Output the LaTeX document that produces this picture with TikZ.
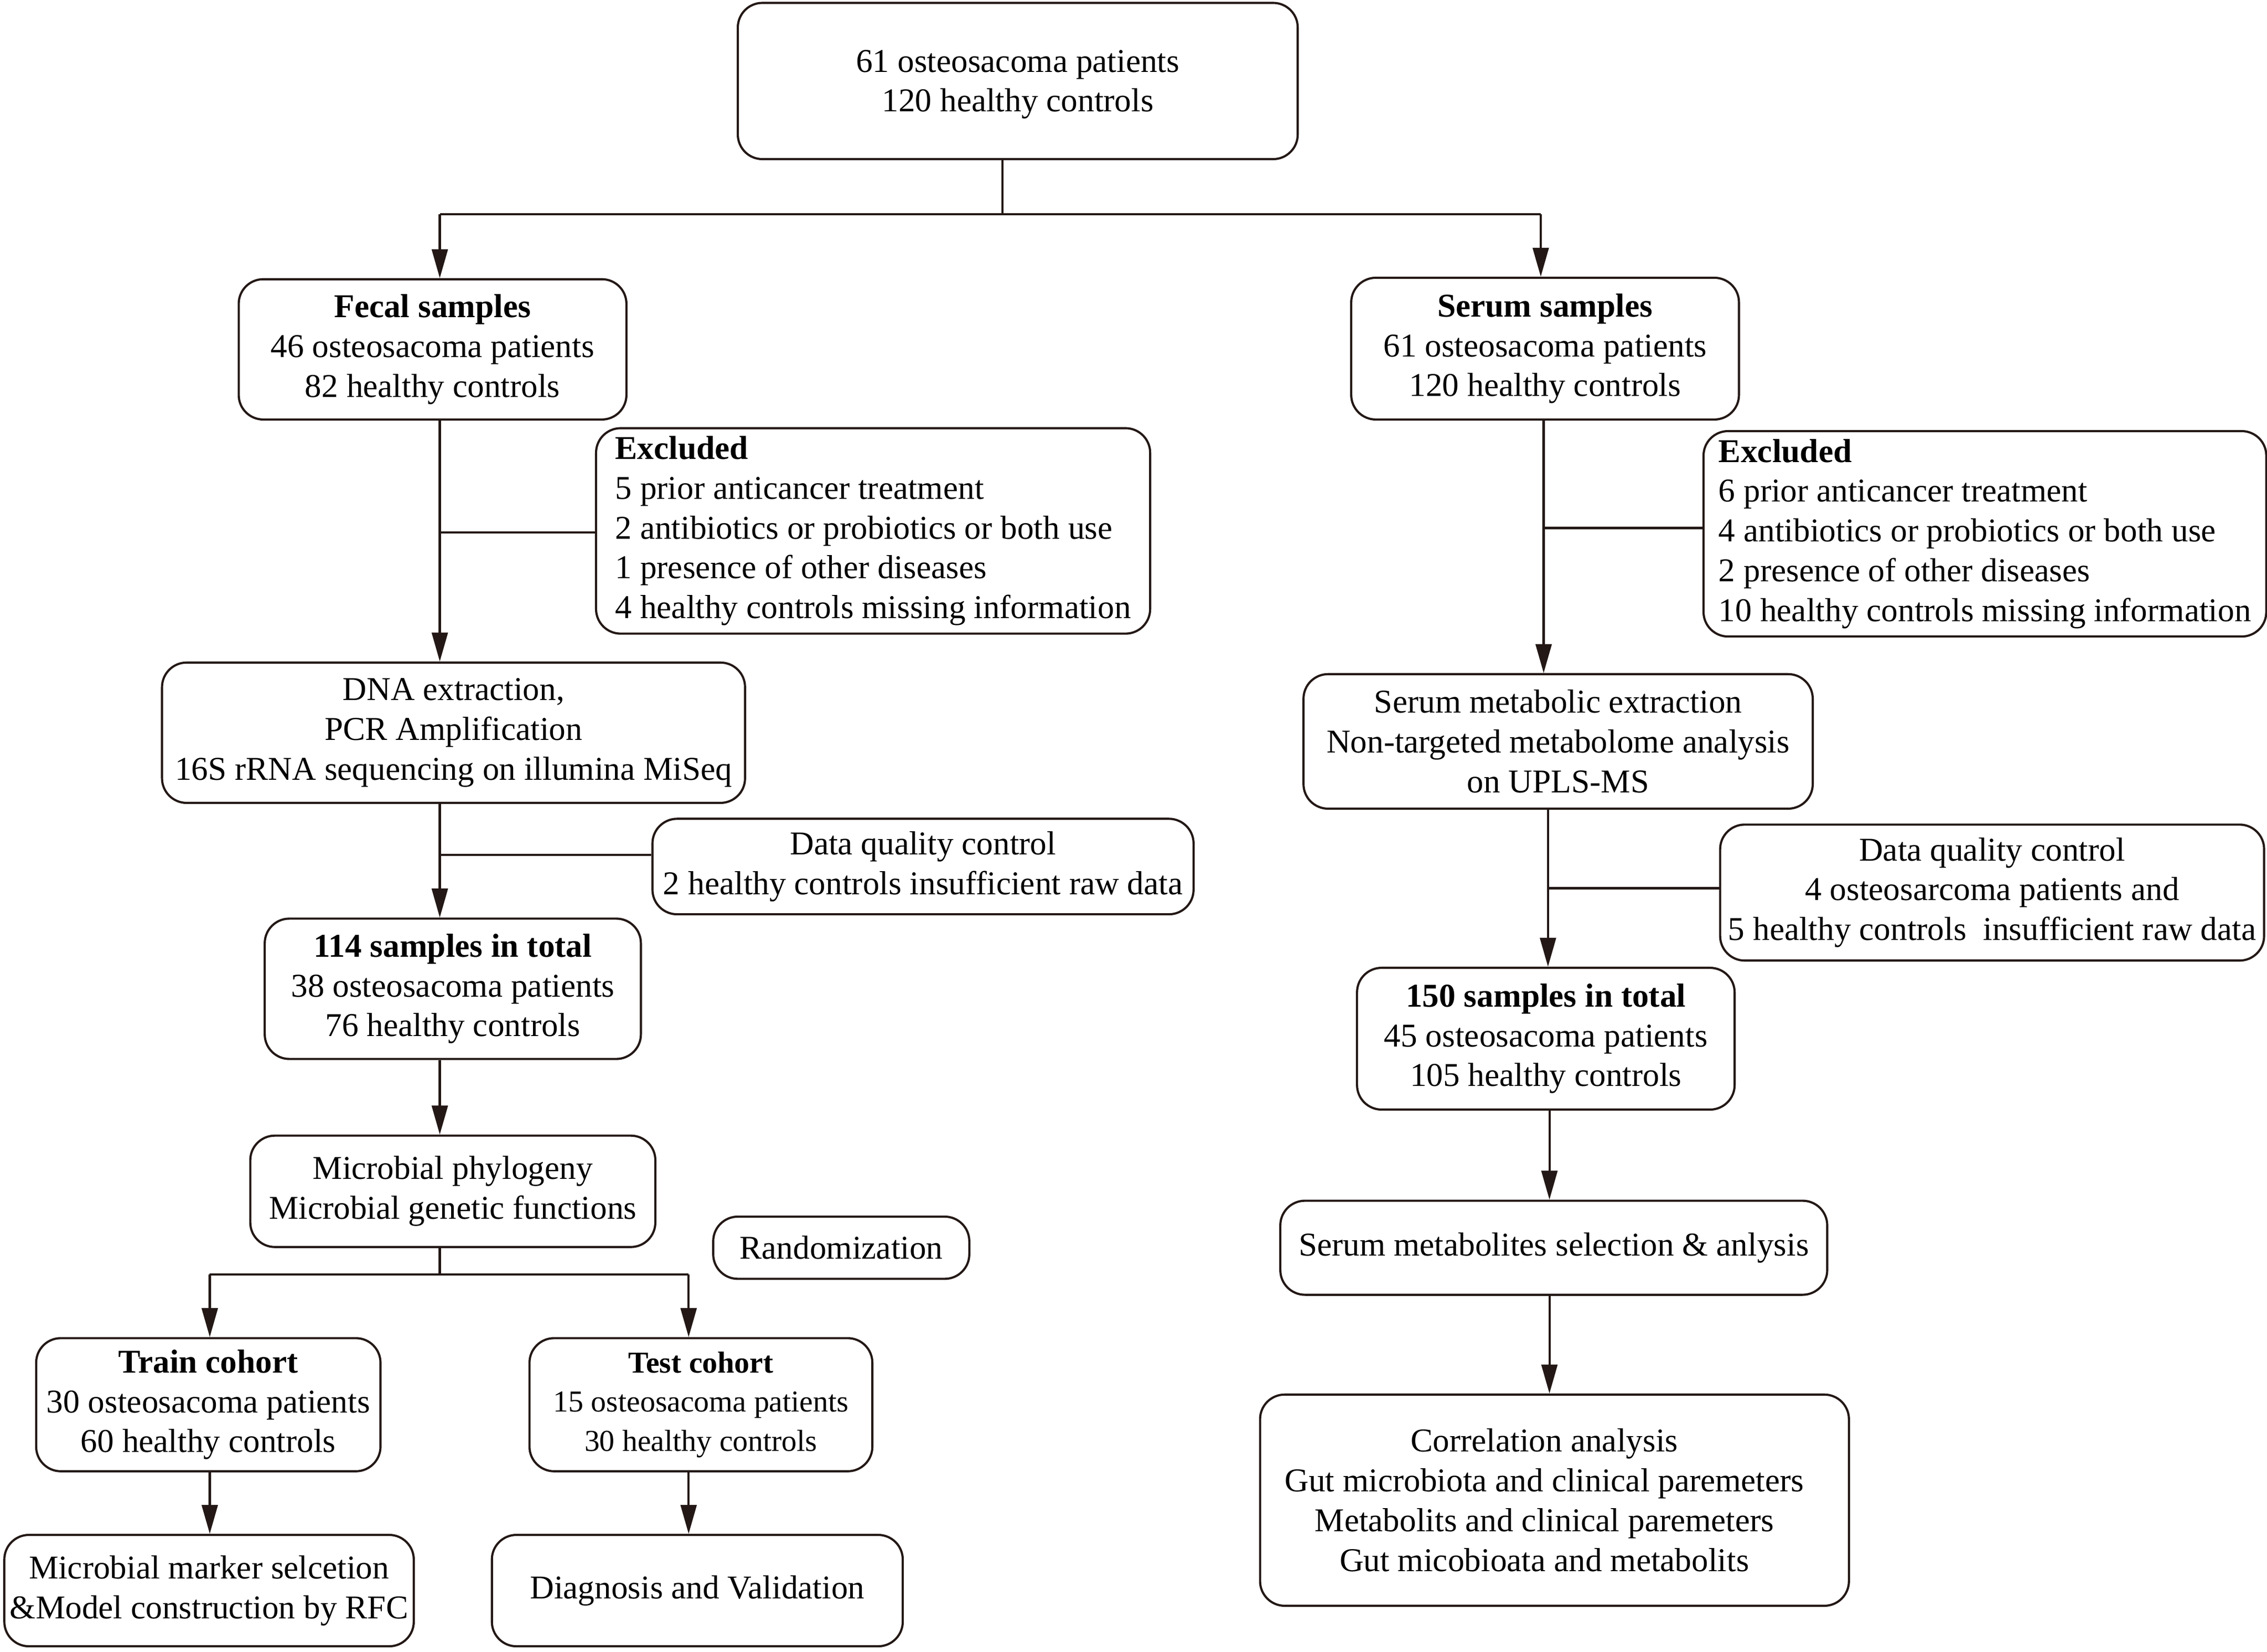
\documentclass[tikz,border=0pt]{standalone}
\usepackage{fontspec}
\setmainfont{Liberation Serif}
\usetikzlibrary{arrows.meta}
\definecolor{lc}{HTML}{231815}
\newcommand\fsz{\fontsize{23}{27.5}\selectfont}
\newcommand\fsm{\fontsize{21}{27}\selectfont}
\newcommand\padr{\rule{14pt}{0pt}}
\begin{document}
\begin{tikzpicture}[x=1pt,y=-1pt,
  box/.style={draw=lc, line width=1.5pt, rounded corners=17pt, font=\fsz, align=center, inner sep=0pt, fill=white},
  conn/.style={draw=lc, line width=1.5pt},
  arr/.style={conn, -{Triangle[length=20pt,width=11pt]}}]
\useasboundingbox[fill=white] (0,0) rectangle (1567,1141.6);

% left column
\node[box, minimum width=387pt, minimum height=108pt] (top) at (703.5,56) {\rule{0pt}{20pt}61 osteosacoma patients\\120 healthy controls};
\node[box, minimum width=268pt, minimum height=97pt] (fecal) at (299,241.5) {\textbf{Fecal samples}\\46 osteosacoma patients\\82 healthy controls};
\node[box, align=left, minimum width=383pt, minimum height=142pt] (exclL) at (603.5,367) {\textbf{Excluded}\\5 prior anticancer treatment\\2 antibiotics or probiotics or both use\\1 presence of other diseases\\4 healthy controls missing information};
\node[box, minimum width=403pt, minimum height=97pt] (dna) at (313.5,506.5) {DNA extraction,\\PCR Amplification\\16S rRNA sequencing on illumina MiSeq};
\node[box, minimum width=374pt, minimum height=66pt] (dqcL) at (638,599) {Data quality control\\2 healthy controls insufficient raw data};
\node[box, minimum width=260pt, minimum height=97pt] (tot114) at (313,683.5) {\textbf{114 samples in total}\\38 osteosacoma patients\\76 healthy controls};
\node[box, minimum width=280pt, minimum height=77pt] (micro) at (313,823.5) {Microbial phylogeny\\Microbial genetic functions};
\node[box, minimum width=177pt, minimum height=43pt] (rand) at (581.5,862.5) {Randomization};
\node[box, minimum width=238pt, minimum height=92pt] (train) at (144,971) {\textbf{Train cohort}\\30 osteosacoma patients\\60 healthy controls};
\node[box, font=\fsm, minimum width=237pt, minimum height=92pt] (test) at (484.5,971) {\textbf{Test cohort}\\15 osteosacoma patients\\30 healthy controls};
\node[box, minimum width=283pt, minimum height=77pt] (marker) at (144.5,1099.5) {Microbial marker selcetion\\\&Model construction by RFC};
\node[box, minimum width=284pt, minimum height=77pt] (diag) at (482,1099.5) {Diagnosis and Validation};

% right column
\node[box, minimum width=268pt, minimum height=98pt] (serum) at (1068,241) {\textbf{Serum samples}\\61 osteosacoma patients\\120 healthy controls};
\node[box, align=left, minimum width=389pt, minimum height=142pt] (exclR) at (1372,369) {\textbf{Excluded}\\6 prior anticancer treatment\\4 antibiotics or probiotics or both use\\2 presence of other diseases\\10 healthy controls missing information};
\node[box, minimum width=352pt, minimum height=93pt] (met) at (1077,512.5) {Serum metabolic extraction\\Non-targeted metabolome analysis\\on UPLS-MS};
\node[box, minimum width=376pt, minimum height=94pt] (dqcR) at (1377,617) {Data quality control\\4 osteosarcoma patients and\\5 healthy controls\ \ insufficient raw data};
\node[box, minimum width=261pt, minimum height=98pt] (tot150) at (1068.5,718) {\textbf{150 samples in total}\\45 osteosacoma patients\\105 healthy controls};
\node[box, minimum width=378pt, minimum height=65pt] (sel) at (1074,862.5) {Serum metabolites selection \& anlysis};
\node[box, minimum width=407pt, minimum height=146pt] (corr) at (1074.5,1037) {Correlation analysis\padr\\Gut microbiota and clinical paremeters\padr\\Metabolits and clinical paremeters\padr\\Gut micobioata and metabolits\padr};

% junction coordinates
\coordinate (jt) at (693,148);
\coordinate (jl) at (304,148);
\coordinate (jr) at (1065,148);
\coordinate (bl1) at (304,368);
\coordinate (bl2) at (304,591);
\coordinate (jm) at (304,881);
\coordinate (jml) at (145,881);
\coordinate (jmr) at (476,881);
\coordinate (rx1) at (1067,365);
\coordinate (rx2) at (1070,614);
\coordinate (rx3) at (1071,0);

% connectors
\draw[conn] (top.south -| jt) -- (jt);
\draw[conn] (jl) -- (jr);
\draw[arr] (jl) -- (fecal.north -| jl);
\draw[arr] (jr) -- (serum.north -| jr);

\draw[arr] (fecal.south -| jl) -- (dna.north -| jl);
\draw[conn] (bl1) -- (exclL.west |- bl1);
\draw[arr] (dna.south -| jl) -- (tot114.north -| jl);
\draw[conn] (bl2) -- (dqcL.west |- bl2);
\draw[arr] (tot114.south -| jl) -- (micro.north -| jl);
\draw[conn] (micro.south -| jm) -- (jm);
\draw[conn] (jml) -- (jmr);
\draw[arr] (jml) -- (train.north -| jml);
\draw[arr] (jmr) -- (test.north -| jmr);
\draw[arr] (train.south -| jml) -- (marker.north -| jml);
\draw[arr] (test.south -| jmr) -- (diag.north -| jmr);

\draw[arr] (serum.south -| rx1) -- (met.north -| rx1);
\draw[conn] (rx1) -- (exclR.west |- rx1);
\draw[arr] (met.south -| rx2) -- (tot150.north -| rx2);
\draw[conn] (rx2) -- (dqcR.west |- rx2);
\draw[arr] (tot150.south -| rx3) -- (sel.north -| rx3);
\draw[arr] (sel.south -| rx3) -- (corr.north -| rx3);
\end{tikzpicture}
\end{document}
